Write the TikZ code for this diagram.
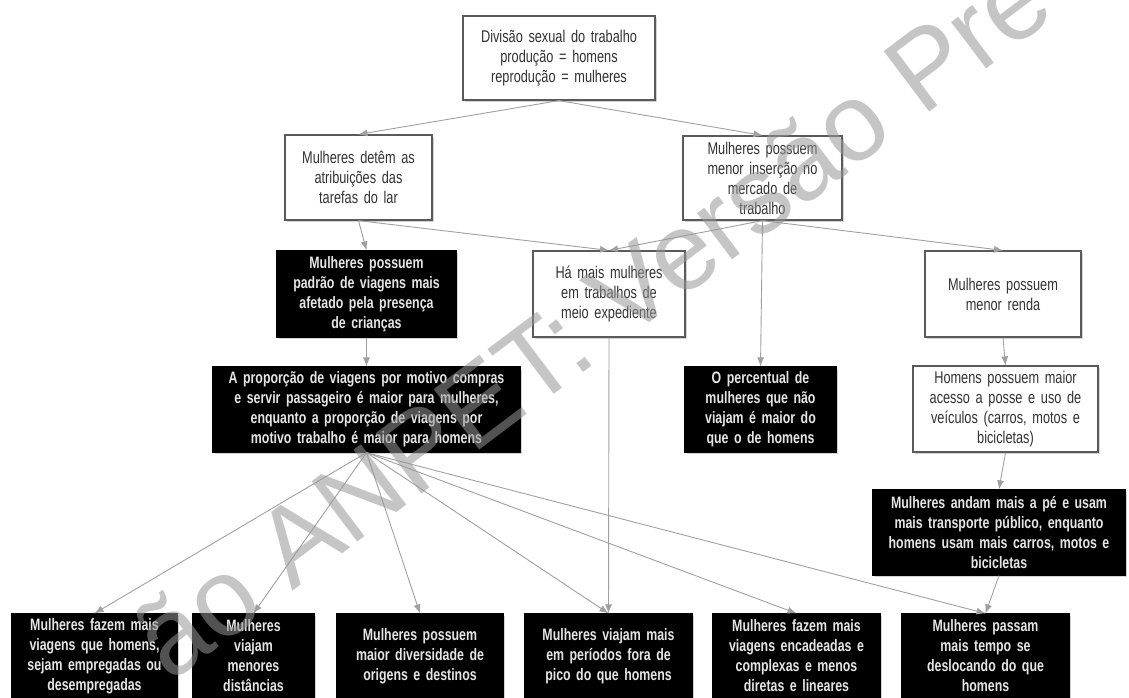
\documentclass[tikz,border=0pt]{standalone}
\usepackage{fontspec}
\setmainfont{Liberation Sans}[FakeStretch=0.75]
\newfontfamily\wmfont{Liberation Sans}
\usepackage{tikz}
\usetikzlibrary{arrows.meta,shadows}
\definecolor{boxgray}{RGB}{90,90,90}
\definecolor{txtgray}{RGB}{50,50,50}
\definecolor{linegray}{RGB}{160,160,160}
\definecolor{wmgray}{RGB}{150,150,150}
\tikzstyle{arrow} = [line width=0.9pt, draw=linegray, -{Latex[length=9pt,width=7pt]}]
\tikzstyle{lightnode} = [rectangle, draw=boxgray, line width=1.2pt, fill=white, text=txtgray,
    align=center, inner sep=2pt, font=\fontsize{17}{20}\selectfont,
    drop shadow={opacity=0.35, shadow xshift=1.5pt, shadow yshift=-1.5pt}]
\tikzstyle{darknode} = [lightnode, draw=black, fill=black, text=white!90!black,
    font=\fontsize{16.5}{20}\selectfont\bfseries]
\tikzstyle{wmark} = [text=wmgray, opacity=0.55, font=\wmfont\fontsize{110}{110}\selectfont, inner sep=0pt]

\begin{document}
\begin{tikzpicture}[x=1pt, y=-1pt]
\useasboundingbox (0,0) rectangle (1129,697);

% origem
\node[lightnode, minimum width=192pt, minimum height=84pt, text width=184pt] (divisao) at (559,58)
    {Divisão sexual do trabalho\\produção = homens\\reprodução = mulheres};

% segundo nivel
\node[lightnode, minimum width=147pt, minimum height=85pt, text width=139pt] (lar) at (358.5,177.5)
    {Mulheres detêm as\\atribuições das\\tarefas do lar};
\node[lightnode, minimum width=159pt, minimum height=84pt, text width=151pt] (insercao) at (762.5,178)
    {Mulheres possuem\\menor inserção no\\mercado de\\trabalho};

% terceiro nivel
\node[darknode, minimum width=179pt, minimum height=86pt, text width=171pt] (criancas) at (366.5,294)
    {Mulheres possuem\\padrão de viagens mais\\afetado pela presença\\de crianças};
\node[lightnode, minimum width=152pt, minimum height=86pt, text width=144pt] (meio) at (609,294)
    {Há mais mulheres\\em trabalhos de\\meio expediente};
\node[lightnode, minimum width=156pt, minimum height=86pt, text width=148pt] (renda) at (1003,294)
    {Mulheres possuem\\menor renda};

% quarto nivel
\node[darknode, minimum width=307pt, minimum height=85pt, text width=299pt] (motivo) at (366.5,409.5)
    {A proporção de viagens por motivo compras\\e servir passageiro é maior para mulheres,\\enquanto a proporção de viagens por\\motivo trabalho é maior para homens};
\node[darknode, minimum width=151pt, minimum height=85pt, text width=143pt] (naoviajam) at (760.5,409.5)
    {O percentual de\\mulheres que não\\viajam é maior do\\que o de homens};
\node[lightnode, minimum width=185pt, minimum height=86pt, text width=177pt] (veiculos) at (1005.5,409)
    {Homens possuem maior\\acesso a posse e uso de\\veículos (carros, motos e\\bicicletas)};

\node[darknode, minimum width=252pt, minimum height=85pt, text width=244pt] (ape) at (999,532.5)
    {Mulheres andam mais a pé e usam\\mais transporte público, enquanto\\homens usam mais carros, motos e\\bicicletas};

% ultima linha
\node[darknode, minimum width=165pt, minimum height=84pt, text width=157pt] (maisviagens) at (94.5,656)
    {Mulheres fazem mais\\viagens que homens,\\sejam empregadas ou\\desempregadas};
\node[darknode, minimum width=121pt, minimum height=84pt, text width=113pt] (distancias) at (253.5,656)
    {Mulheres\\viajam\\menores\\distâncias};
\node[darknode, minimum width=166pt, minimum height=84pt, text width=158pt] (diversidade) at (420,656)
    {Mulheres possuem\\maior diversidade de\\origens e destinos};
\node[darknode, minimum width=167pt, minimum height=84pt, text width=159pt] (pico) at (608.5,656)
    {Mulheres viajam mais\\em períodos fora de\\pico do que homens};
\node[darknode, minimum width=167pt, minimum height=84pt, text width=159pt] (encadeadas) at (796.5,656)
    {Mulheres fazem mais\\viagens encadeadas e\\complexas e menos\\diretas e lineares};
\node[darknode, minimum width=167pt, minimum height=84pt, text width=159pt] (tempo) at (985.5,656)
    {Mulheres passam\\mais tempo se\\deslocando do que\\homens};

% ligacoes
\draw[arrow] (divisao.south) -- (lar.north);
\draw[arrow] (divisao.south) -- (insercao.north);
\draw[arrow] (lar.south) -- (criancas.north);
\draw[arrow] (lar.south) -- (meio.north);
\draw[arrow] (insercao.south) -- (meio.north);
\draw[arrow] (insercao.south) -- (naoviajam.north);
\draw[arrow] (insercao.south) -- (renda.north);
\draw[arrow] (criancas.south) -- (motivo.north);
\draw[arrow] (renda.south) -- (veiculos.north);
\draw[arrow] (veiculos.south) -- (ape.north);
\draw[arrow] (meio.south) -- (pico.north);
\draw[arrow] (ape.south) -- (tempo.north);
\foreach \dest in {maisviagens,distancias,diversidade,pico,encadeadas,tempo}
    \draw[arrow] (motivo.south) -- (\dest.north);

% marca d'agua
\node[wmark, rotate=37, anchor=base west] (marca) at (170,684) {ão ANPET: Versão Pre};
\end{tikzpicture}
\end{document}
